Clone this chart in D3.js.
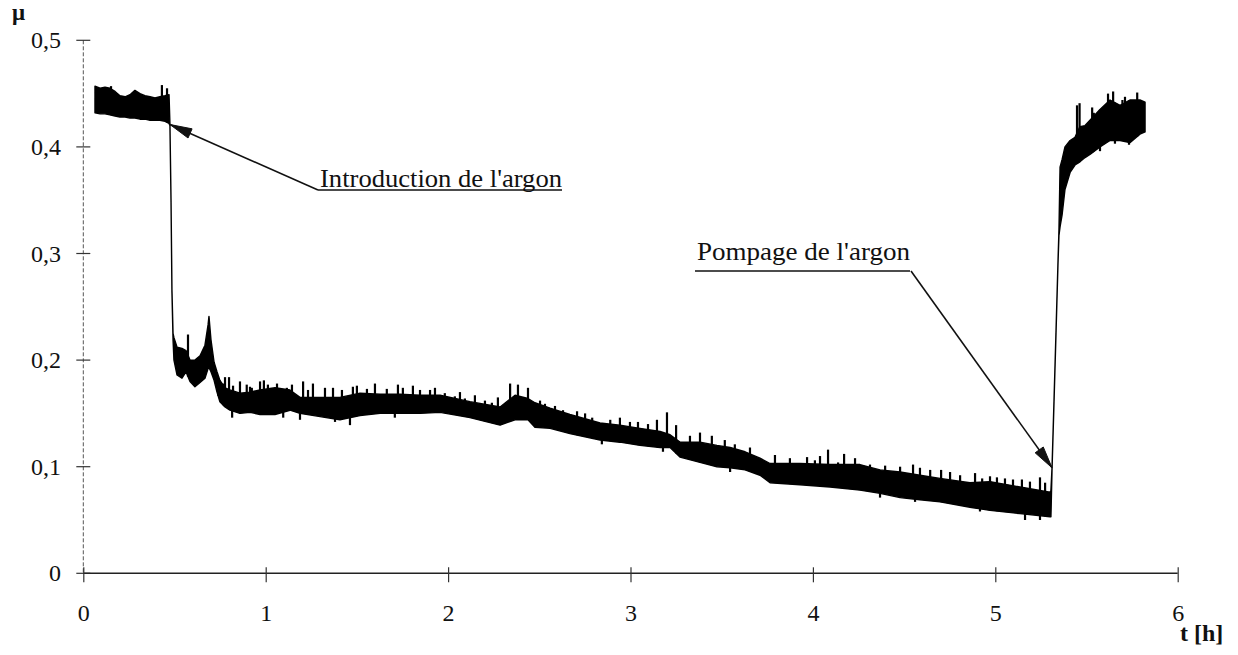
<!DOCTYPE html>
<html>
<head>
<meta charset="utf-8">
<script src="https://cdn.jsdelivr.net/npm/d3@7"></script>
<style>
  html, body { margin: 0; padding: 0; background: #fff; }
  svg { display: block; }
  text { font-family: "Liberation Serif", "Times New Roman", serif; fill: #111; }
</style>
</head>
<body>
<svg id="chart" width="1238" height="655"></svg>
<script>
// Friction coefficient band (upper / lower envelope of the trace) versus time in hours
const time = [0.064,0.092,0.119,0.146,0.174,0.201,0.229,0.256,0.283,0.311,0.338,0.366,0.393,0.420,0.448,0.470,
  0.475,0.481,0.486,0.492,0.497,0.514,0.541,0.563,0.585,0.612,0.640,0.667,0.684,0.689,0.700,0.717,0.733,0.749,
  0.777,0.804,0.859,0.914,0.969,1.051,1.133,1.188,1.298,1.407,1.517,1.627,1.736,1.846,1.956,2.120,2.285,2.367,
  2.438,2.476,2.559,2.668,2.833,2.942,3.052,3.162,3.217,3.271,3.381,3.474,3.546,3.628,3.710,3.765,3.847,3.929,
  4.094,4.258,4.368,4.478,4.587,4.697,4.861,4.971,5.135,5.300,5.305,5.311,5.322,5.333,5.344,5.349,5.355,5.366,
  5.382,5.410,5.437,5.464,5.492,5.519,5.574,5.629,5.684,5.738,5.793,5.821];
const muHigh = [0.457,0.455,0.456,0.455,0.452,0.448,0.447,0.449,0.453,0.450,0.448,0.447,0.446,0.447,0.448,0.449,
  0.422,0.350,0.266,0.225,0.221,0.212,0.211,0.209,0.200,0.200,0.204,0.214,0.233,0.241,0.219,0.198,0.189,0.181,
  0.174,0.172,0.169,0.170,0.172,0.174,0.172,0.165,0.165,0.165,0.169,0.168,0.168,0.167,0.167,0.161,0.156,0.167,
  0.164,0.160,0.155,0.149,0.141,0.139,0.136,0.133,0.130,0.123,0.123,0.120,0.118,0.114,0.108,0.103,0.103,0.103,
  0.102,0.102,0.097,0.095,0.092,0.089,0.085,0.086,0.081,0.076,0.078,0.099,0.163,0.228,0.294,0.322,0.381,0.388,
  0.400,0.406,0.409,0.419,0.420,0.425,0.435,0.444,0.439,0.444,0.444,0.442];
const muLow = [0.432,0.431,0.431,0.430,0.429,0.428,0.428,0.427,0.427,0.426,0.426,0.425,0.425,0.425,0.424,0.422,
  0.420,0.348,0.264,0.219,0.200,0.186,0.183,0.189,0.180,0.175,0.179,0.183,0.192,0.193,0.189,0.181,0.170,0.161,
  0.156,0.153,0.150,0.151,0.149,0.149,0.153,0.150,0.147,0.144,0.148,0.150,0.150,0.150,0.151,0.146,0.139,0.144,
  0.144,0.137,0.136,0.131,0.125,0.123,0.120,0.118,0.118,0.109,0.104,0.100,0.099,0.097,0.092,0.085,0.084,0.083,
  0.081,0.078,0.075,0.071,0.069,0.067,0.062,0.059,0.056,0.053,0.053,0.097,0.161,0.226,0.292,0.317,0.325,0.336,
  0.360,0.376,0.383,0.386,0.390,0.393,0.400,0.406,0.406,0.404,0.412,0.414];

// Noise peaks rising above the band
const peakTime = [0.152,0.431,0.459,0.574,0.717,0.739,0.771,0.777,0.799,0.821,0.859,0.896,0.914,0.924,0.969,
  0.990,1.012,1.024,1.062,1.116,1.144,1.205,1.232,1.259,1.325,1.369,1.418,1.478,1.500,1.555,1.599,1.664,1.725,
  1.752,1.807,1.846,1.901,1.928,1.982,2.037,2.065,2.092,2.147,2.202,2.240,2.273,2.340,2.383,2.438,2.504,2.531,
  2.586,2.630,2.707,2.751,2.790,2.889,2.942,2.997,3.041,3.096,3.145,3.200,3.250,3.326,3.381,3.446,3.517,3.572,
  3.655,3.792,3.874,3.968,4.011,4.039,4.083,4.138,4.171,4.231,4.313,4.396,4.478,4.549,4.587,4.643,4.703,4.752,
  4.807,4.889,4.928,4.971,5.009,5.053,5.097,5.146,5.190,5.245,5.273,
  5.448,5.462,5.531,5.540,5.618,5.646,5.697,5.711,5.778];
const peakMu = [0.457,0.458,0.455,0.224,0.181,0.183,0.178,0.184,0.184,0.176,0.180,0.177,0.175,0.174,0.180,
  0.181,0.177,0.172,0.178,0.174,0.177,0.180,0.172,0.178,0.174,0.174,0.172,0.175,0.176,0.173,0.178,0.173,0.177,
  0.174,0.176,0.172,0.172,0.174,0.169,0.166,0.170,0.164,0.167,0.162,0.160,0.165,0.178,0.177,0.174,0.162,0.159,
  0.157,0.153,0.152,0.150,0.146,0.144,0.146,0.142,0.142,0.140,0.144,0.151,0.139,0.129,0.132,0.129,0.125,0.121,
  0.118,0.111,0.108,0.109,0.106,0.110,0.116,0.104,0.112,0.108,0.102,0.101,0.100,0.102,0.099,0.097,0.097,0.095,
  0.092,0.094,0.089,0.091,0.090,0.089,0.088,0.088,0.086,0.090,0.085,
  0.439,0.441,0.437,0.432,0.450,0.452,0.444,0.447,0.451];

// Noise dips falling below the band
const dipTime = [0.816,1.096,1.188,1.380,1.462,1.708,2.843,3.178,3.546,4.368,4.560,4.916,5.163,5.245,
  5.470,5.574,5.656,5.733];
const dipMu = [0.146,0.146,0.144,0.142,0.139,0.146,0.121,0.114,0.095,0.071,0.067,0.058,0.050,0.050,
  0.400,0.396,0.403,0.402];

const xTicks = [0, 1, 2, 3, 4, 5, 6];
const xTickLabels = ["0", "1", "2", "3", "4", "5", "6"];
const yTicks = [0, 0.1, 0.2, 0.3, 0.4, 0.5];
const yTickLabels = ["0", "0,1", "0,2", "0,3", "0,4", "0,5"];

// Annotated events: label text and the point of the trace the arrow points at
const notes = [
  { label: "Introduction de l'argon", tip: [0.475, 0.421] },
  { label: "Pompage de l'argon", tip: [5.311, 0.099] }
];

const svg = d3.select("#chart");
const x = d3.scaleLinear().domain([0, 6]).range([83.3, 1177.7]);
const y = d3.scaleLinear().domain([0, 0.5]).range([573.3, 40.3]);

// ---- axes ----
const yAxis = svg.append("g");
yAxis.append("line")
  .attr("x1", x(0)).attr("x2", x(0))
  .attr("y1", y(0.5)).attr("y2", y(0))
  .attr("stroke", "#555").attr("stroke-width", 1)
  .attr("stroke-dasharray", "4,2");
yAxis.selectAll("line.tick").data(yTicks).enter().append("line")
  .attr("class", "tick")
  .attr("x1", x(0) - 7).attr("x2", x(0) + 7)
  .attr("y1", d => y(d)).attr("y2", d => y(d))
  .attr("stroke", "#333").attr("stroke-width", 1.2);
yAxis.selectAll("text").data(yTicks).enter().append("text")
  .attr("x", 61).attr("y", d => y(d))
  .attr("dy", "0.34em")
  .attr("text-anchor", "end")
  .style("font-size", "24px")
  .text((d, i) => yTickLabels[i]);

const xAxisG = svg.append("g")
  .attr("transform", `translate(0,${y(0)})`)
  .call(d3.axisBottom(x).tickValues(xTicks).tickSize(9).tickPadding(0)
        .tickFormat((d, i) => xTickLabels[i]));
xAxisG.select(".domain").attr("stroke", "#222").attr("stroke-width", 1.4)
  .attr("d", `M${x(0)},0H${x(6)}`);
xAxisG.selectAll(".tick line").attr("y1", -6).attr("stroke", "#333").attr("stroke-width", 1.2);
xAxisG.selectAll(".tick text")
  .attr("y", 48).attr("dy", 0)
  .style("font-size", "24px")
  .style("font-family", "'Liberation Serif', 'Times New Roman', serif")
  .attr("fill", "#111");

svg.append("text")
  .attr("x", 12).attr("y", 20)
  .style("font-size", "23px").style("font-weight", "bold")
  .text("μ");
svg.append("text")
  .attr("x", 1180).attr("y", 641)
  .style("font-size", "24px").style("font-weight", "bold")
  .text("t [h]");

// ---- trace ----
const band = time.map((t, i) => ({ t, hi: muHigh[i], lo: muLow[i] }));
const area = d3.area()
  .x(d => x(d.t))
  .y0(d => y(d.lo))
  .y1(d => y(d.hi));
svg.append("path")
  .datum(band)
  .attr("d", area)
  .attr("fill", "#000")
  .attr("stroke", "#000")
  .attr("stroke-width", 1.4)
  .attr("stroke-linejoin", "round");

// linear lookup of an envelope at time t
const envelopeAt = (arr, t) => {
  const i = Math.max(1, Math.min(time.length - 1, d3.bisectLeft(time, t)));
  const f = (t - time[i - 1]) / (time[i] - time[i - 1]);
  return arr[i - 1] + f * (arr[i] - arr[i - 1]);
};

// peaks: short strokes from inside the band up to the peak value
svg.selectAll("line.peak").data(peakTime).enter().append("line")
  .attr("class", "peak")
  .attr("x1", d => x(d)).attr("x2", d => x(d))
  .attr("y1", d => y(envelopeAt(muLow, d)))
  .attr("y2", (d, i) => y(peakMu[i]))
  .attr("stroke", "#000").attr("stroke-width", 2.2);

// dips: short strokes from inside the band down to the dip value
svg.selectAll("line.dip").data(dipTime).enter().append("line")
  .attr("class", "dip")
  .attr("x1", d => x(d)).attr("x2", d => x(d))
  .attr("y1", d => y(envelopeAt(muHigh, d)))
  .attr("y2", (d, i) => y(dipMu[i]))
  .attr("stroke", "#000").attr("stroke-width", 2.2);

// ---- annotations ----
const labelPos = [
  { x: 320, y: 187, width: 242, underline: 190 },
  { x: 697, y: 260, width: 213, underline: 271 }
];
const anchorEnd = [
  { x: 318, y: 190 },
  { x: 911, y: 271 }
];

notes.forEach((n, i) => {
  const p = labelPos[i];
  svg.append("text")
    .attr("x", p.x).attr("y", p.y)
    .attr("textLength", p.width).attr("lengthAdjust", "spacingAndGlyphs")
    .style("font-size", "25px")
    .text(n.label);
  svg.append("line")
    .attr("x1", p.x - 2).attr("x2", p.x + p.width)
    .attr("y1", p.underline).attr("y2", p.underline)
    .attr("stroke", "#111").attr("stroke-width", 1.5);

  const a = anchorEnd[i];
  const tx = x(n.tip[0]), ty = y(n.tip[1]);
  svg.append("line")
    .attr("x1", a.x).attr("y1", a.y)
    .attr("x2", tx).attr("y2", ty)
    .attr("stroke", "#111").attr("stroke-width", 1.6);
  // arrow head
  const dx = tx - a.x, dy = ty - a.y, len = Math.hypot(dx, dy);
  const ux = dx / len, uy = dy / len;
  const hl = 22, hw = 5;
  const bx = tx - ux * hl, by = ty - uy * hl;
  const head = [[tx, ty], [bx - uy * hw, by + ux * hw], [bx + uy * hw, by - ux * hw]];
  svg.append("path")
    .attr("d", d3.line()(head) + "Z")
    .attr("fill", "#111").attr("stroke", "#111").attr("stroke-width", 1);
});
</script>
</body>
</html>
